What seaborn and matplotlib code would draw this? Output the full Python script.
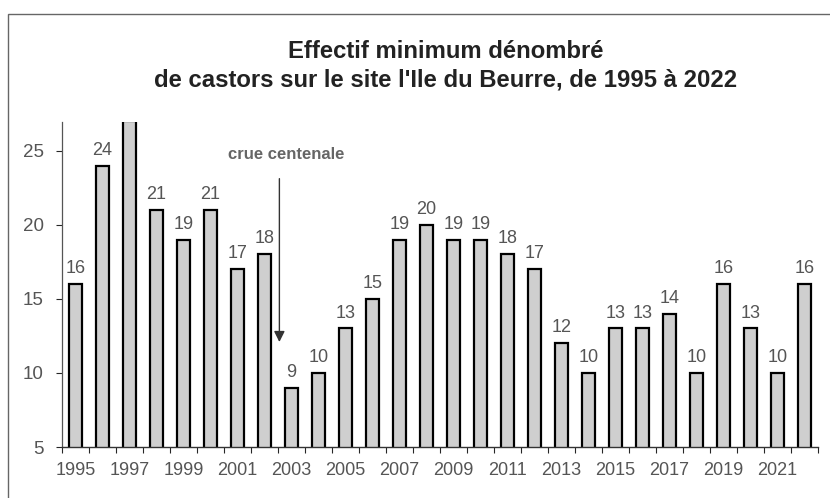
import numpy as np
import pandas as pd
import matplotlib.pyplot as plt
import seaborn as sns
from matplotlib.patches import Rectangle

# =========================
# DATA
# =========================

years = list(range(1995, 2023))
castors = [16, 24, 27, 21, 19, 21, 17, 18, 9, 10, 13, 15, 19, 20,
           19, 19, 18, 17, 12, 10, 13, 13, 14, 10, 16, 13, 10, 16]
tick_years = [str(y) for y in range(1995, 2022, 2)]

title = "Effectif minimum dénombré\nde castors sur le site l'Ile du Beurre, de 1995 à 2022"
note = "crue centenale"

df = pd.DataFrame({"annee": [str(y) for y in years], "castors": castors})

# =========================
# PLOT
# =========================

sns.set_style("white")
plt.rcParams['font.family'] = ['Liberation Sans', 'DejaVu Sans']

fig = plt.figure(figsize=(8.3, 4.98), dpi=100)
ax = fig.add_axes([0.0747, 0.1024, 0.911, 0.653])

sns.barplot(
    data=df,
    x="annee",
    y="castors",
    color="#cfcfcf",
    edgecolor="black",
    linewidth=1.6,
    width=0.48,
    saturation=1,
    ax=ax
)

ax.set_ylim(5, 26.95)
ax.set_xlim(-0.5, 27.3)

# value labels above bars
for i, v in enumerate(castors):
    t = ax.annotate(
        str(v),
        (i, v),
        xytext=(0, 5),
        textcoords="offset points",
        ha="center",
        va="bottom",
        fontsize=13,
        color="#555555",
        annotation_clip=True
    )
    t.set_clip_on(True)

# axis ticks
ax.set_yticks([5, 10, 15, 20, 25])
ax.tick_params(axis="y", labelsize=13.5, labelcolor="#555555",
               length=4, width=0.8, direction="out", left=True, pad=9)

ax.set_xticks(range(0, 28, 2))
ax.set_xticklabels(tick_years)
ax.tick_params(axis="x", which="major", length=0, labelsize=13,
               labelcolor="#555555", pad=10.5)
ax.set_xticks(np.arange(-0.5, 27.6, 1), minor=True)
ax.tick_params(axis="x", which="minor", length=4, width=0.8,
               direction="out", bottom=True)

ax.set_xlabel("")
ax.set_ylabel("")

sns.despine(ax=ax, top=True, right=True)
ax.spines["left"].set_color("#555555")
ax.spines["bottom"].set_color("#333333")
ax.spines["left"].set_linewidth(0.9)
ax.spines["bottom"].set_linewidth(1.0)

# annotation for the flood
ax.annotate(
    "",
    xy=(7.55, 11.9),
    xytext=(7.55, 23.3),
    arrowprops=dict(arrowstyle="-|>", color="#333333", lw=1.0,
                    mutation_scale=16)
)
ax.text(7.8, 24.75, note, ha="center", va="center", fontsize=12,
        fontweight="bold", color="#666666")

# title
fig.text(0.537, 0.8675, title, ha="center", va="center", fontsize=17.2,
         fontweight="bold", color="#222222", linespacing=1.3)

# outer frame
fig.patches.append(Rectangle((8 / 830, -0.01), 1.0, 1 - 14 / 498 + 0.01,
                             transform=fig.transFigure, fill=False,
                             edgecolor="#666666", linewidth=1.0))

plt.savefig("out.png", dpi=100)
